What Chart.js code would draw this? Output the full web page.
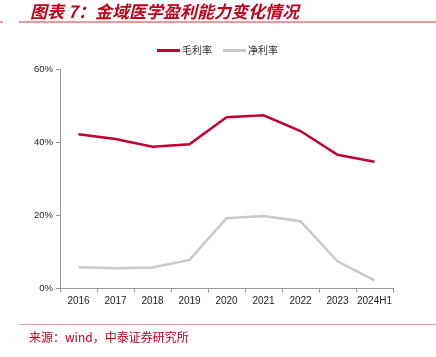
<!DOCTYPE html>
<html><head><meta charset="utf-8">
<script src="https://cdn.jsdelivr.net/npm/chart.js@4/dist/chart.umd.min.js"></script>
<style>
html,body{margin:0;padding:0;background:#fff;}
#wrap{position:relative;width:436px;height:357px;overflow:hidden;}
#c{position:absolute;left:0;top:0;}
.title{position:absolute;left:30px;top:1px;font:italic bold 17px "Noto Sans CJK SC";color:#C0001A;line-height:20px;white-space:nowrap;}
.hline{position:absolute;height:1px;background:#E89A9A;}
.src{position:absolute;left:29px;top:328px;font:12px "Noto Sans CJK SC";color:#C0001E;line-height:18px;white-space:nowrap;}
.leg{position:absolute;top:43px;font:10px "Noto Sans CJK SC";color:#333;line-height:14px;white-space:nowrap;}
.sw{position:absolute;height:3px;}
</style></head>
<body><div id="wrap">
<canvas id="c" width="436" height="357"></canvas>
<div class="title">图表 7：金域医学盈利能力变化情况</div>
<div class="hline" style="left:19px;top:21px;width:417px;height:2px;"></div>
<div class="hline" style="left:0px;top:21px;width:3px;height:2px;"></div>
<div class="sw" style="left:157px;top:49px;width:23px;background:#C00030;"></div>
<div class="leg" style="left:182px;">毛利率</div>
<div class="sw" style="left:223px;top:49px;width:23px;background:#C8C8C8;"></div>
<div class="leg" style="left:248px;">净利率</div>
<div class="hline" style="left:20px;top:324px;width:416px;"></div>
<div class="src">来源：wind，中泰证券研究所</div>
</div>
<script>
const categories = ['2016','2017','2018','2019','2020','2021','2022','2023','2024H1'];
const grossMargin = [42.3, 41.0, 38.9, 39.6, 47.0, 47.5, 43.2, 36.7, 34.8];
const netMargin = [5.9, 5.6, 5.8, 7.9, 19.3, 19.9, 18.5, 7.5, 2.3];
const yTicks = [0, 20, 40, 60];
const seriesNames = ['毛利率','净利率'];

new Chart(document.getElementById('c'), {
  type: 'line',
  data: {
    labels: categories,
    datasets: [
      {label: seriesNames[0], data: grossMargin, borderColor: '#C00030', borderWidth: 2.5, pointRadius: 0, tension: 0, fill: false},
      {label: seriesNames[1], data: netMargin, borderColor: '#C8C8C8', borderWidth: 2.5, pointRadius: 0, tension: 0, fill: false}
    ]
  },
  options: {
    responsive: false,
    animation: false,
    layout: {padding: {left: 0, right: 43, top: 69.7, bottom: 48.3}},
    plugins: {legend: {display: false}, tooltip: {enabled: false}},
    scales: {
      x: {
        type: 'category',
        offset: true,
        grid: {display: true, drawOnChartArea: false, tickLength: 4, color: '#999', offset: true},
        border: {color: '#999', width: 1},
        ticks: {color: '#222', font: {family: 'Liberation Sans', size: 10}, padding: 3, maxRotation: 0, autoSkip: false},
        afterFit: s => { s.height = 20; }
      },
      y: {
        min: 0, max: 60,
        afterBuildTicks: s => { s.ticks = yTicks.map(v => ({value: v})); },
        grid: {display: true, drawOnChartArea: false, tickLength: 4, color: '#999'},
        border: {color: '#999', width: 1},
        ticks: {color: '#222', font: {family: 'Liberation Sans', size: 9.5}, padding: 3, callback: v => v + '%'},
        afterFit: s => { s.width = 60; }
      }
    }
  }
});
</script>
</body></html>
